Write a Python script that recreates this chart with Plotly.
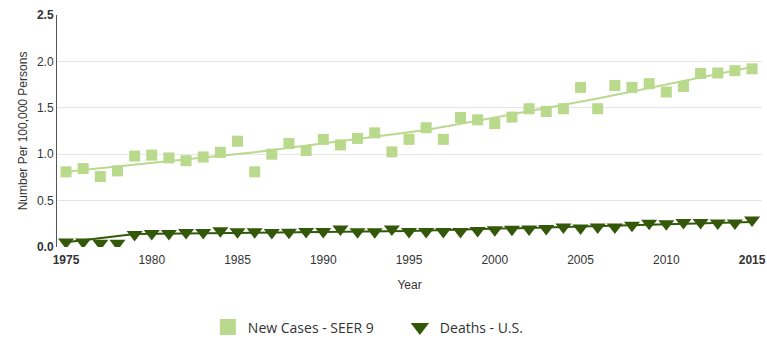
import plotly.graph_objects as go

# Annual rates per 100,000 persons
years = list(range(1975, 2016))

new_cases = [0.81, 0.845, 0.76, 0.82, 0.98, 0.99, 0.96, 0.93, 0.97, 1.02,
             1.14, 0.81, 1.00, 1.115, 1.04, 1.16, 1.10, 1.17, 1.23, 1.025,
             1.16, 1.285, 1.16, 1.395, 1.37, 1.33, 1.40, 1.49, 1.46, 1.49,
             1.72, 1.49, 1.74, 1.72, 1.76, 1.67, 1.73, 1.87, 1.875, 1.90,
             1.92]

deaths = [0.055, 0.055, 0.04, 0.04, 0.135, 0.145, 0.145, 0.155, 0.155, 0.175,
          0.165, 0.165, 0.155, 0.158, 0.168, 0.168, 0.195, 0.165, 0.165, 0.195,
          0.168, 0.168, 0.168, 0.168, 0.178, 0.185, 0.19, 0.195, 0.20, 0.215,
          0.205, 0.215, 0.215, 0.235, 0.255, 0.25, 0.265, 0.265, 0.258, 0.258,
          0.29]

# Fitted trend lines (joinpoint segments)
cases_trend_years = [1975, 1986, 1996, 2006, 2015]
cases_trend = [0.81, 1.02, 1.26, 1.60, 1.94]

deaths_trend_years = [1975, 1979, 1995, 2015]
deaths_trend = [0.05, 0.14, 0.172, 0.27]

x_ticks = list(range(1975, 2016, 5))
x_labels = ["<b>1975</b>"] + [str(v) for v in x_ticks[1:-1]] + ["<b>2015</b>"]
y_ticks = [0, 0.5, 1.0, 1.5, 2.0, 2.5]
y_labels = ["<b>0.0</b>", "0.5", "1.0", "1.5", "2.0", "<b>2.5</b>"]

light_green = "#b9d98d"
dark_green = "#34580a"

fig = go.Figure()

fig.add_trace(go.Scatter(
    x=years, y=new_cases, mode="markers", showlegend=False,
    marker=dict(symbol="square", size=11, color=light_green),
))
fig.add_trace(go.Scatter(
    x=cases_trend_years, y=cases_trend, mode="lines", showlegend=False,
    line=dict(color=light_green, width=2),
))
fig.add_trace(go.Scatter(
    x=years, y=deaths, mode="markers", showlegend=False,
    marker=dict(symbol="triangle-down", size=14, color=dark_green),
))
fig.add_trace(go.Scatter(
    x=deaths_trend_years, y=deaths_trend, mode="lines", showlegend=False,
    line=dict(color=dark_green, width=2),
))

# Legend entries with larger symbols
fig.add_trace(go.Scatter(
    x=[None], y=[None], mode="markers", name="New Cases - SEER 9",
    marker=dict(symbol="square", size=16, color=light_green),
))
fig.add_trace(go.Scatter(
    x=[None], y=[None], mode="markers", name="Deaths - U.S.",
    marker=dict(symbol="triangle-down", size=16, color=dark_green),
))

fig.update_layout(
    width=767, height=338,
    margin=dict(l=57, r=5, t=15, b=91, autoexpand=False),
    paper_bgcolor="white", plot_bgcolor="white",
    font=dict(family="Liberation Sans, Arial, sans-serif", size=12, color="#333333"),
    legend=dict(
        orientation="h", x=0.214, xanchor="left",
        yref="container", y=0.031, yanchor="middle",
        font=dict(family="Open Sans", size=14, color="#333333"),
        entrywidth=147, entrywidthmode="pixels",
        bgcolor="rgba(0,0,0,0)",
    ),
    xaxis=dict(
        range=[1974.475, 2015.58],
        tickvals=x_ticks, ticktext=x_labels,
        showgrid=False, zeroline=False, showline=False,
        ticks="", ticklabelstandoff=4,
        tickfont=dict(size=12, color="#333333"),
        title=dict(text="Year", font=dict(size=12, color="#333333"), standoff=14),
    ),
    yaxis=dict(
        range=[0, 2.5],
        tickvals=y_ticks, ticktext=y_labels,
        showgrid=True, gridcolor="#e6e6e6", gridwidth=1,
        zeroline=False, showline=True, linecolor="#555555", linewidth=1,
        ticks="", tickfont=dict(size=12, color="#333333"),
        title=dict(text="Number Per 100,000 Persons",
                   font=dict(size=12, color="#333333"), standoff=6),
    ),
)

fig.write_html("out.html")
